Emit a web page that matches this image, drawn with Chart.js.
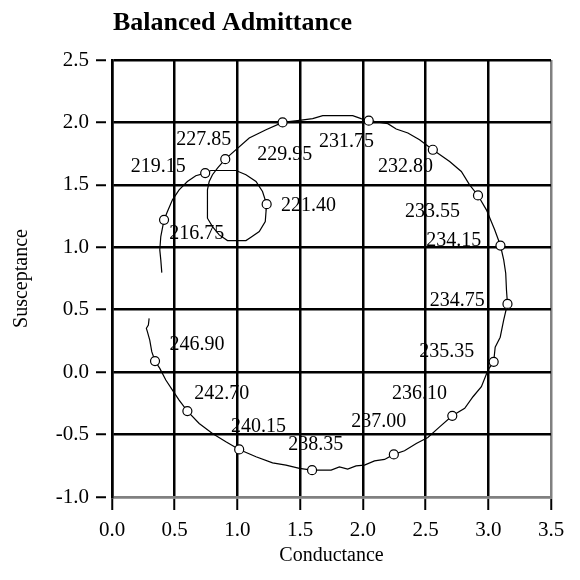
<!DOCTYPE html>
<html>
<head>
<meta charset="utf-8">
<script src="https://cdn.jsdelivr.net/npm/chart.js@4"></script>
<style>
html, body { margin: 0; padding: 0; background: #fff; }
</style>
</head>
<body>
<canvas id="myChart" width="580" height="580"></canvas>
<script>
// admittance trace (conductance, susceptance)
const curveX = [0.397, 0.389, 0.381, 0.389, 0.402, 0.415, 0.442, 0.482, 0.535, 0.601, 0.668, 0.743, 0.788, 0.988, 1.068, 1.148, 1.200, 1.233, 1.228, 1.222, 1.174, 1.108, 1.068, 0.921, 0.855, 0.801, 0.761, 0.761, 0.775, 0.801, 0.841, 0.903, 1.094, 1.228, 1.360, 1.494, 1.600, 1.680, 1.919, 1.986, 2.047, 2.199, 2.266, 2.359, 2.452, 2.558, 2.692, 2.785, 2.851, 2.918, 2.985, 3.051, 3.097, 3.123, 3.139, 3.145, 3.153, 3.123, 3.095, 3.055, 3.043, 2.998, 2.945, 2.878, 2.812, 2.713, 2.612, 2.518, 2.426, 2.332, 2.247, 2.173, 2.093, 2.013, 1.946, 1.879, 1.813, 1.747, 1.595, 1.494, 1.387, 1.280, 1.148, 1.014, 0.908, 0.801, 0.695, 0.601, 0.535, 0.482, 0.429, 0.381, 0.343, 0.317, 0.301, 0.282, 0.274, 0.290, 0.296]
const curveY = [0.797, 0.899, 0.979, 1.086, 1.153, 1.220, 1.286, 1.380, 1.460, 1.527, 1.573, 1.594, 1.615, 1.615, 1.581, 1.527, 1.447, 1.345, 1.286, 1.206, 1.126, 1.081, 1.054, 1.054, 1.099, 1.166, 1.233, 1.460, 1.527, 1.581, 1.634, 1.706, 1.875, 1.941, 2.000, 2.016, 2.030, 2.054, 2.054, 2.030, 2.014, 1.990, 1.947, 1.915, 1.861, 1.781, 1.687, 1.607, 1.500, 1.415, 1.300, 1.140, 1.014, 0.899, 0.792, 0.658, 0.546, 0.418, 0.280, 0.200, 0.083, 0.017, -0.117, -0.197, -0.290, -0.350, -0.438, -0.523, -0.571, -0.630, -0.659, -0.699, -0.711, -0.745, -0.751, -0.777, -0.759, -0.785, -0.785, -0.771, -0.745, -0.727, -0.678, -0.619, -0.558, -0.491, -0.411, -0.312, -0.224, -0.144, -0.063, 0.030, 0.089, 0.164, 0.257, 0.324, 0.351, 0.378, 0.431]

// marked points and their voltage labels
const markerLabels = ['216.75', '219.15', '221.40', '227.85', '229.95', '231.75', '232.80', '233.55', '234.15', '234.75', '235.35', '236.10', '237.00', '238.35', '240.15', '242.70', '246.90']
const markerX = [0.415, 0.743, 1.233, 0.903, 1.360, 2.047, 2.558, 2.918, 3.097, 3.153, 3.043, 2.713, 2.247, 1.595, 1.014, 0.601, 0.343]
const markerY = [1.220, 1.594, 1.345, 1.706, 2.000, 2.014, 1.781, 1.415, 1.014, 0.546, 0.083, -0.350, -0.659, -0.785, -0.619, -0.312, 0.089]
const labelX = [0.675, 0.369, 1.567, 0.732, 1.378, 1.869, 2.340, 2.556, 2.725, 2.752, 2.668, 2.452, 2.126, 1.625, 1.168, 0.875, 0.677]
const labelY = [1.107, 1.645, 1.332, 1.861, 1.745, 1.845, 1.645, 1.284, 1.051, 0.570, 0.161, -0.176, -0.400, -0.585, -0.440, -0.176, 0.217]

const chartTitle = 'Balanced Admittance'
const xTitle = 'Conductance'
const yTitle = 'Susceptance'

const serif = '"Liberation Serif", "Times New Roman", serif'

const textPlugin = {
    id: 'textPlugin',
    afterDatasetsDraw(chart) {
        const ctx = chart.ctx
        const xs = chart.scales.x
        const ys = chart.scales.y
        ctx.save()
        ctx.fillStyle = '#000'
        ctx.font = '20px ' + serif
        ctx.textAlign = 'center'
        ctx.textBaseline = 'middle'
        markerLabels.forEach((t, i) => {
            ctx.fillText(t, xs.getPixelForValue(labelX[i]), ys.getPixelForValue(labelY[i]))
        })
        // title sits above the plot, left edge in line with the axis
        ctx.font = 'bold 26px ' + serif
        ctx.textAlign = 'left'
        ctx.textBaseline = 'alphabetic'
        ctx.fillText(chartTitle, 113, 30)
        ctx.restore()
    }
}

function chart() {
    const line = curveX.map((x, i) => ({x: x, y: curveY[i]}))
    const marks = markerX.map((x, i) => ({x: x, y: markerY[i]}))

    const config = {
        type: 'scatter',
        data: {
            datasets: [{
                data: marks,
                showLine: false,
                pointRadius: 4.5,
                pointBackgroundColor: '#fff',
                pointBorderColor: '#000',
                pointBorderWidth: 1.2
            }, {
                data: line,
                showLine: true,
                borderColor: '#000',
                borderWidth: 1.2,
                pointRadius: 0,
                tension: 0
            }]
        },
        options: {
            responsive: false,
            animation: false,
            layout: {padding: {top: 60, right: 29, left: 0, bottom: 0}},
            plugins: {legend: {display: false}, tooltip: {enabled: false}},
            scales: {
                x: {
                    min: 0, max: 3.5,
                    afterFit: (s) => { s.height = 83 },
                    ticks: {stepSize: 0.5, padding: 8, color: '#000', font: {family: serif, size: 21},
                        callback: (v) => Number(v).toFixed(1)},
                    grid: {
                        color: (c) => (c.tick && c.tick.value === 3.5) ? '#808080' : '#000',
                        lineWidth: 2.5,
                        tickColor: '#000',
                        tickLength: 13,
                        tickWidth: 2
                    },
                    border: {display: true, color: '#808080', width: 2.5},
                    title: {display: true, text: xTitle, color: '#000', font: {family: serif, size: 20}, padding: {top: 4, bottom: 12}}
                },
                y: {
                    min: -1, max: 2.5,
                    afterFit: (s) => { s.width = 112 },
                    ticks: {stepSize: 0.5, padding: 7, color: '#000', font: {family: serif, size: 21},
                        callback: (v) => Number(v).toFixed(1)},
                    grid: {
                        color: (c) => (c.tick && c.tick.value === -1) ? '#808080' : '#000',
                        lineWidth: 2.5,
                        tickColor: '#000',
                        tickLength: 16,
                        tickWidth: 2,
                        tickBorderDash: [10, 40]
                    },
                    border: {display: true, color: '#000', width: 2.5},
                    title: {display: true, text: yTitle, color: '#000', font: {family: serif, size: 20}, padding: {top: 10, bottom: 4}}
                }
            }
        },
        plugins: [textPlugin]
    }

    return new Chart(document.getElementById('myChart'), config)
}

document.addEventListener('DOMContentLoaded', () => chart())
</script>
</body>
</html>
